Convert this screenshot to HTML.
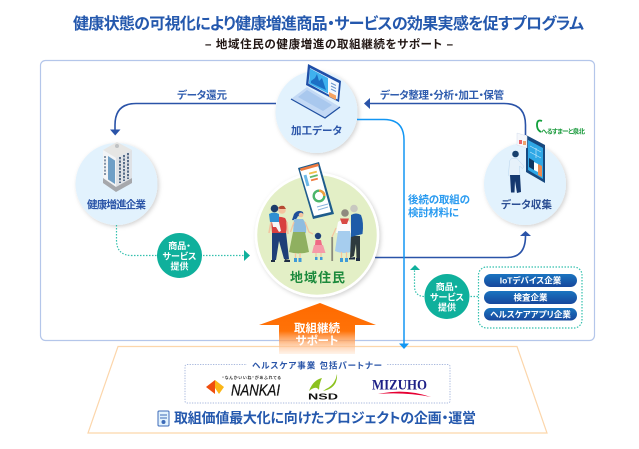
<!DOCTYPE html>
<html lang="ja"><head><meta charset="utf-8"><style>
html,body{margin:0;padding:0;background:#fff}
svg{display:block}
text{font-family:"Liberation Sans","Noto Sans CJK JP",sans-serif;font-weight:700;font-feature-settings:"palt"}
</style></head><body>
<svg width="639" height="449" viewBox="0 0 639 449" xmlns="http://www.w3.org/2000/svg">
<defs>
<linearGradient id="or" x1="0" y1="0" x2="0" y2="1"><stop offset="0" stop-color="#ff6a00"/><stop offset=".55" stop-color="#ff7208"/><stop offset="1" stop-color="#ffe6d2" stop-opacity=".5"/></linearGradient>
<linearGradient id="pill" x1="0" y1="0" x2="0" y2="1"><stop offset="0" stop-color="#1a74c0"/><stop offset="1" stop-color="#17479c"/></linearGradient>
<filter id="sh" x="-20%" y="-20%" width="150%" height="150%"><feDropShadow dx="1.500" dy="1.500" stdDeviation="2" flood-color="#000" flood-opacity=".18"/></filter>
</defs>

<text x="73" y="29" font-size="16" fill="#2458ad" textLength="511">健康状態の可視化により健康増進商品・サービスの効果実感を促すプログラム</text>
<text x="205" y="48" font-size="11.500" fill="#231815" textLength="248">– 地域住民の健康増進の取組継続をサポート –</text>

<rect x="40.500" y="60.500" width="554" height="280" rx="5" fill="#fff" stroke="#b4c6ea" stroke-width="1.200"/>
<polygon points="118,346.500 517,346.500 547,433 88,433" fill="#fff" stroke="#fcd6ab" stroke-width="1.200"/>

<circle cx="316.500" cy="112" r="41" fill="#e2f2fd" filter="url(#sh)"/>
<circle cx="116.500" cy="184" r="41" fill="#e2f2fd" filter="url(#sh)"/>
<circle cx="525" cy="184" r="41" fill="#e2f2fd" filter="url(#sh)"/>

<path d="M276,103.500H136Q115,103.500 115,125V131" fill="none" stroke="#2a53a8" stroke-width="1.600"/>
<polygon points="110,129.500 120.500,129.500 115.200,135.500" fill="#2a53a8"/>
<path d="M525.500,135V125Q525.500,103.500 504,103.500H368" fill="none" stroke="#2a53a8" stroke-width="1.600"/>
<polygon points="364,103.500 370,98 370,109" fill="#2a53a8"/>
<path d="M375,257.500H507Q525.500,257.500 525.500,236" fill="none" stroke="#2a53a8" stroke-width="1.600"/>
<polygon points="520,236 531,236 525.500,231" fill="#2a53a8"/>

<path d="M116.500,225V240Q116.500,255.500 132,255.500H244" fill="none" stroke="#34c0ae" stroke-width="1.200" stroke-dasharray="1.500 1.500"/>
<polygon points="244,250 250,255.500 244,261" fill="#0fb09c"/>
<path d="M478,296.500H425Q414.500,296.500 414.500,286V270" fill="none" stroke="#34c0ae" stroke-width="1.200" stroke-dasharray="1.500 1.500"/>
<polygon points="410,270 420,270 415,265" fill="#0fb09c"/>
<circle cx="179.500" cy="255.500" r="22.500" fill="#0fb09c"/>
<circle cx="447" cy="296.500" r="22.500" fill="#0fb09c"/>
<g font-size="9" fill="#fff" text-anchor="middle">
<text x="179.500" y="249">商品・</text><text x="179.500" y="259.500">サービス</text><text x="179.500" y="269.500">提供</text>
<text x="447" y="290">商品・</text><text x="447" y="300.500">サービス</text><text x="447" y="310.500">提供</text>
</g>

<circle cx="317" cy="235" r="61" fill="#e3efc6" stroke="#fff" stroke-width="2.500" filter="url(#sh)"/>

<path d="M357,119.500H384Q404,119.500 404,140V344" fill="none" stroke="#1296f3" stroke-width="1.500"/>
<polygon points="399,343.500 409,343.500 404,349" fill="#1296f3"/>

<g font-size="10.500" fill="#2f5cae">
<text x="177" y="98.500" textLength="50">データ還元</text>
<text x="380" y="98.500" textLength="124">データ整理・分析・加工・保管</text>
</g>
<g font-size="10.500" fill="#2a9bf0">
<text x="408" y="203" textLength="62">後続の取組の</text>
<text x="408" y="216" textLength="51">検討材料に</text>
</g>
<g font-size="10.500" fill="#2b55a8">
<text x="291" y="134" textLength="51">加工データ</text>
<text x="87" y="208" textLength="59">健康増進企業</text>
<text x="501" y="208" textLength="51" fill="#2c4f94">データ収集</text>
</g>

<!-- laptop -->
<polygon points="291,99 307,87 340,107 325,118" fill="#c3d9f5"/>
<path d="M291,99L325,118L340,107" fill="none" stroke="#1f4fa0" stroke-width="1.200"/>
<polygon points="298,97 307,90 332,105 323,111" fill="#a9c8ee"/>
<polygon points="308,64 341,81 339,102 306,85" fill="#1f4fa8"/>
<polygon points="310,68 339,83 337.500,99.500 308.500,83.500" fill="#f2f8ff"/>
<polygon points="310,68.500 328,78 328,93.500 309,83.500" fill="#3fb1ee"/>
<polygon points="311,81 315,78 317,74 319,81 322,78 326,90 311,83" fill="#1c6fc4"/>
<path d="M331,83l5,2.500M331,86l5,2.500M331,89l5,2.500" stroke="#6a94cc" stroke-width="1"/>
<polygon points="329,92 336,95.500 336,100 329,96.500" fill="#f4a261"/>

<!-- building -->
<polygon points="103,150 117,142 132,150 116,158" fill="#e6e6e4"/>
<polygon points="103,150 116,158 116,187 103,178" fill="#f2f4f6"/>
<polygon points="116,158 132,150 132,178 116,187" fill="#dfe2e6"/>
<polygon points="103,178 116,187 132,178 132,183 116,192 103,183" fill="#a6a8ac"/>
<polygon points="108,156 115,160.500 115,184 108,179.500" fill="#6f9fc6"/>
<path d="M105,156v19M105.800,156" stroke="#5f7690" stroke-width="1.500" stroke-dasharray="2 1.400"/>
<g stroke="#48607e" stroke-width="1.800" stroke-dasharray="2.200 1.300" fill="none">
<path d="M120,157V183"/><path d="M124,155V181"/><path d="M128,153V179"/>
</g>
<circle cx="117" cy="146" r="2" fill="#bfc2c4"/>

<!-- collection -->
<polygon points="526,135 545,145 545,183 526,172" fill="#17497f"/>
<polygon points="528,140 543,148 543,179 528,170" fill="#2fa8e6"/>
<path d="M530,146l11,6M530,152l11,6M536,148v10" stroke="#bfe6fa" stroke-width=".7"/>
<polygon points="529,158 534,161 534,170 529,167" fill="#10345f"/>
<polygon points="534,162 538,164 538,172 534,170" fill="#fff"/>
<polygon points="538,164 542,166 542,177 538,175" fill="#ee8a4f"/>
<polygon points="517,133 527,136 527,148 517,145" fill="#f5f7fb" stroke="#d5deee" stroke-width=".5"/>
<rect x="519" y="140" width="3" height="4" fill="#e8646a"/><rect x="523" y="141" width="3" height="4" fill="#f0a36c"/>
<circle cx="515.500" cy="154" r="3.300" fill="#16406e"/>
<path d="M508.500,174L509.500,162Q510,158 514,158.500H517L524,166.500L522.500,168.500L519.500,166L520,176H509Z" fill="#e6f1fa" stroke="#b9d6ee" stroke-width=".5"/>
<path d="M510,175H520L521,192L517,193L515,181L514.500,192.500H511Z" fill="#15386e"/>
<path d="M542,121Q537,119 537,125Q537,130 541,132" fill="none" stroke="#12a03c" stroke-width="1.800"/>
<text x="541" y="133.500" font-size="6.500" fill="#1a9a3c" textLength="44">へるすまーと泉北</text>

<!-- family phone -->
<polygon points="298,168 319,162 334,214 313,219" fill="#1e5c8c"/>
<polygon points="300,170 318,165 331,212 314,216" fill="#fff"/>
<polygon points="300,168.500 318,163.500 319,166 301,171" fill="#ef7b3f"/>
<rect x="309" y="172" width="8" height="1.800" fill="#f0c04a" transform="rotate(-15 312 173)"/>
<rect x="310" y="175.500" width="8" height="1.800" fill="#5fb86c" transform="rotate(-15 313 177)"/>
<rect x="311" y="179" width="7" height="1.800" fill="#ef7b3f" transform="rotate(-15 313 180)"/>
<path d="M305,175l3,11" stroke="#6cb9e8" stroke-width="3"/>
<circle cx="319" cy="196" r="5.300" fill="none" stroke="#4cb56a" stroke-width="2.400"/>
<path d="M319,190.700a5.300,5.300 0 0 1 5.300,5.300" fill="none" stroke="#f0a040" stroke-width="2.400"/>
<path d="M317,207l11,-3M318,210l10,-3" stroke="#8ab4dc" stroke-width="1"/>

<!-- man + child -->
<path d="M272,232H286L289,259H284L279,241L276,260H272Z" fill="#1e3f78"/>
<path d="M271,260h4v2h-4zM285,259l5,1v2h-6z" fill="#1f2d44"/>
<path d="M271,219Q278,215 285,218Q288,222 286,233H272Z" fill="#d8403f"/>
<path d="M271,222l-2,11M287,222l1,12" stroke="#f3c4a0" stroke-width="1.600"/>
<circle cx="282" cy="210" r="3.800" fill="#f3c4a0"/>
<path d="M278,208Q280,205 284,206L286,209L280,209Z" fill="#b64a32"/>
<path d="M272,222h7l2,9l-2,1l-3,-5l-3,0Z" fill="#f6f6f6"/>
<path d="M269,214Q274,211 279,214L279,222H270Z" fill="#2f8fd2"/>
<circle cx="274.500" cy="208.500" r="3.800" fill="#1c3c6a"/>
<!-- woman -->
<path d="M294,214Q298,209 303,212Q304,215 301,217L298,216Q296,221 292,220Z" fill="#1e4f9a"/>
<circle cx="301" cy="215" r="2.300" fill="#f3c4a0"/>
<path d="M294,219H303Q307,224 306,233H293Z" fill="#8fbde0"/>
<path d="M293,232H305L309,252Q299,255 289,252Z" fill="#8fb060"/>
<path d="M294,222l-3.500,10M305,222l4,10l4,2" stroke="#f3c4a0" stroke-width="1.300" fill="none"/>
<path d="M295.500,253v7M300,253v7" stroke="#f3c4a0" stroke-width="1.300"/>
<path d="M294,258h3v4h-3zM298.500,258h3v4h-3z" fill="#3f9bd8"/>
<!-- girl -->
<circle cx="318" cy="236" r="3.200" fill="#1e3f78"/>
<path d="M315.500,240H321L322,245H315Z" fill="#ef6a84"/>
<path d="M314,245H323L325.500,253H312Z" fill="#f59aa8"/>
<path d="M316,253v5M321,253v5" stroke="#f3c4a0" stroke-width="1.200"/>
<path d="M315,257h2.500v3h-2.500zM320,257h2.500v3h-2.500z" fill="#3f9bd8"/>
<!-- grandma -->
<rect x="331.300" y="237" width="1.800" height="24" fill="#8a8a7c"/>
<path d="M332,237L336,228" stroke="#f3c4a0" stroke-width="1.200"/>
<circle cx="345" cy="213" r="3.800" fill="#8f8a7e"/>
<path d="M338,222Q344,218 350,222L351,233H336Z" fill="#fbfbfb"/>
<path d="M340,218.500h9l-2,5.500h-5Z" fill="#d84a44"/>
<path d="M338,231H350L353,251Q344,255 335,251Z" fill="#a6cdee"/>
<path d="M340,258h3v4h-3zM345,258h3v4h-3z" fill="#3f9bd8"/>
<path d="M341.500,252v6M346.500,252v6" stroke="#f3c4a0" stroke-width="1.200"/>
<!-- grandpa -->
<path d="M351,236H360L360,258H356.500L356,244L354,256L350,258Z" fill="#2e3a3e"/>
<path d="M349,258l6,-1v2.500h-6zM356,258h4v3h-4z" fill="#1f2d44"/>
<path d="M351,215Q356,212 361,215Q364,222 362.500,234L351,237Z" fill="#1e5ca8"/>
<circle cx="354" cy="208.500" r="3.800" fill="#c8c8c0"/>
<text x="290" y="282" font-size="13" fill="#1c8a3c" textLength="55">地域住民</text>

<rect x="478.500" y="267" width="103.500" height="61" rx="8" fill="#fff" stroke="#34c0ae" stroke-width="1.200" stroke-dasharray="1.500 1.500"/>
<rect x="484" y="274" width="93" height="13" rx="6.500" fill="url(#pill)"/>
<rect x="484" y="291" width="93" height="13" rx="6.500" fill="url(#pill)"/>
<rect x="484" y="308" width="93" height="12.500" rx="6.200" fill="url(#pill)"/>
<g font-size="8.500" fill="#fff" text-anchor="middle">
<text x="530.500" y="283.500">IoTデバイス企業</text>
<text x="530.500" y="300.500">検査企業</text>
<text x="530.500" y="317.500">ヘルスケアアプリ企業</text>
</g>

<polygon points="320,303 376,325 355,325 355,354 279,354 279,325 259,325" fill="url(#or)"/>
<g font-size="11.500" fill="#fff" text-anchor="middle">
<text x="317" y="332">取組継続</text><text x="317" y="344.500">サポート</text>
</g>

<rect x="185" y="364.500" width="265" height="38.500" rx="2" fill="none" stroke="#a9b9de" stroke-width="1" stroke-dasharray="1.300 1.300"/>
<rect x="247" y="360" width="140" height="10" fill="#fff"/>
<text x="252" y="368.500" font-size="8.500" fill="#2a55a8" textLength="130">ヘルスケア事業 包括パートナー</text>
<text x="222" y="379" font-size="4" fill="#333" textLength="59">“なんかいいね”があふれてる</text>
<polygon points="206,387 215,380 215,394" fill="#f04e0e"/>
<polygon points="215,380 224,387 219,394 215,388" fill="#fbb616"/>
<text x="231" y="395.500" font-size="16" fill="#111" stroke="#111" stroke-width=".25" style="font-weight:400;font-style:italic" textLength="49" lengthAdjust="spacingAndGlyphs">NANKAI</text>
<path d="M309,391Q313,380 322,378Q319,384 319,390Q316,385 309,391Z" fill="#8cc21e"/>
<path d="M326,389Q335,385 337,374Q338,388 323,391Z" fill="#8cc21e"/>
<text x="308" y="399.500" font-size="8.500" fill="#111" textLength="30" lengthAdjust="spacingAndGlyphs">NSD</text>
<text x="372" y="389.500" font-size="15" fill="#1d2087" style="font-family:'Liberation Serif',serif" textLength="55" lengthAdjust="spacingAndGlyphs">MIZUHO</text>
<path d="M378,394Q405,388 431,397Q405,392 378,394Z" fill="#e60033"/>

<rect x="158" y="411" width="11" height="15" rx="1" fill="#e2f2fd" stroke="#3c6ab8" stroke-width="1"/>
<path d="M160,415h7M160,418h7" stroke="#3c6ab8" stroke-width="1"/>
<circle cx="163.500" cy="422" r="2" fill="#3c6ab8"/>
<text x="174" y="423" font-size="14" fill="#2458ad" textLength="302">取組価値最大化に向けたプロジェクトの企画・運営</text>
</svg>
</body></html>
